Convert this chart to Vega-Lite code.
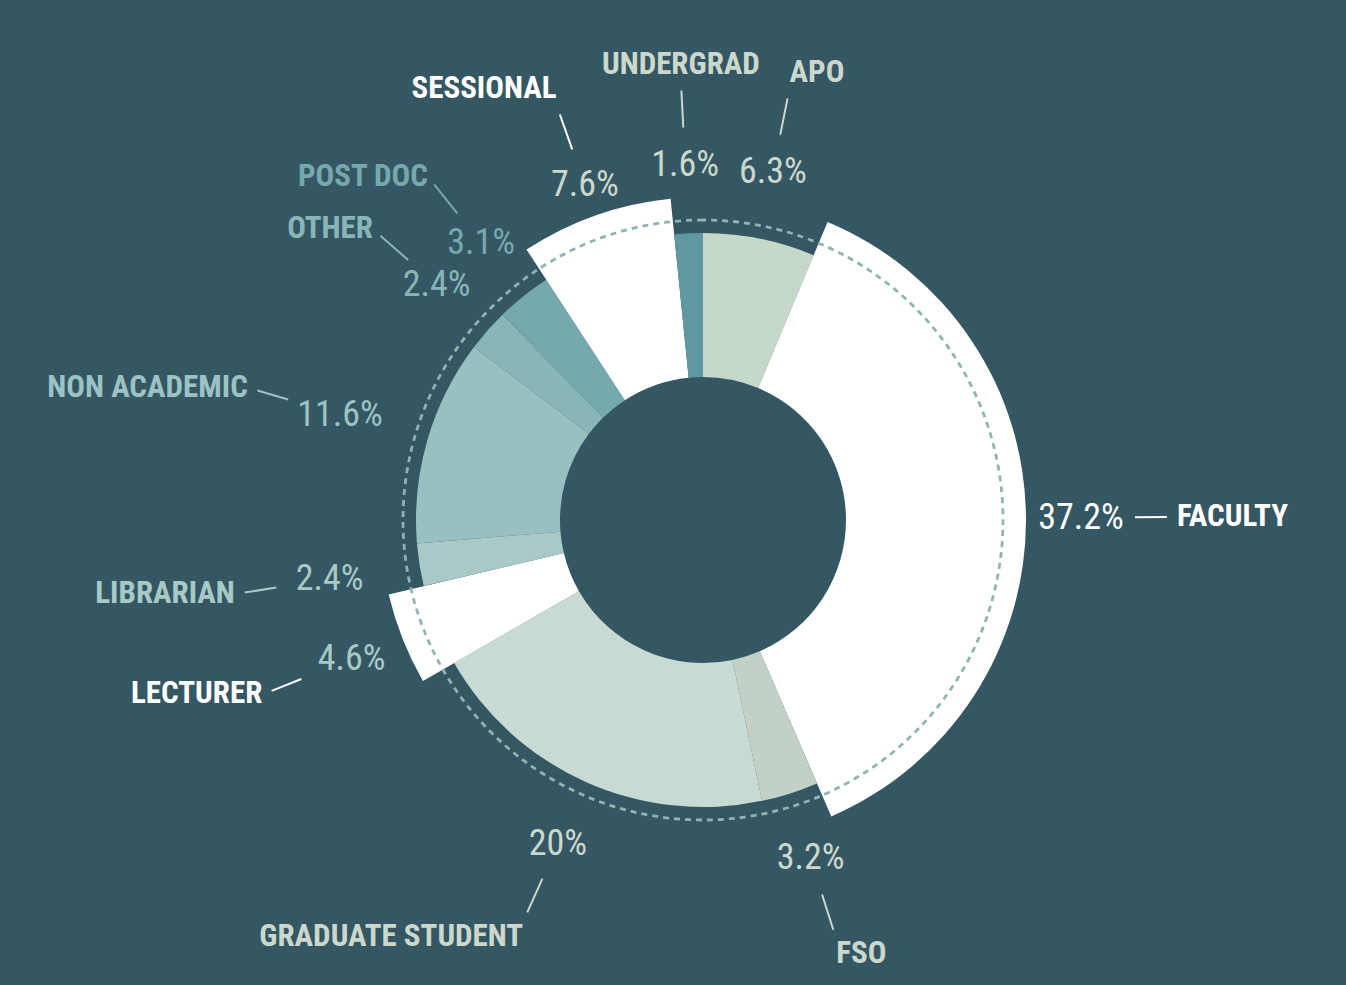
{
  "$schema": "https://vega.github.io/schema/vega-lite/v6.json",
  "width": 1286,
  "height": 930,
  "autosize": {"type": "none"},
  "padding": {"left": 60, "top": 55, "right": 0, "bottom": 0},
  "background": "#345763",
  "config": {"view": {"stroke": null}, "text": {"font": "Roboto Condensed, Roboto, Liberation Sans, sans-serif"}},
  "data": {
    "values": [
      {"idx": 1, "category": "APO", "pct": 0.063, "instructor": 0},
      {"idx": 2, "category": "FACULTY", "pct": 0.372, "instructor": 1},
      {"idx": 3, "category": "FSO", "pct": 0.032, "instructor": 0},
      {"idx": 4, "category": "GRADUATE STUDENT", "pct": 0.2, "instructor": 0},
      {"idx": 5, "category": "LECTURER", "pct": 0.046, "instructor": 1},
      {"idx": 6, "category": "LIBRARIAN", "pct": 0.024, "instructor": 0},
      {"idx": 7, "category": "NON ACADEMIC", "pct": 0.116, "instructor": 0},
      {"idx": 8, "category": "OTHER", "pct": 0.024, "instructor": 0},
      {"idx": 9, "category": "POST DOC", "pct": 0.031, "instructor": 0},
      {"idx": 10, "category": "SESSIONAL", "pct": 0.076, "instructor": 1},
      {"idx": 11, "category": "UNDERGRAD", "pct": 0.016, "instructor": 0}
    ]
  },
  "resolve": {"scale": {"color": "independent"}},
  "layer": [
    {
      "transform": [{"stack": "pct", "groupby": [], "sort": [{"field": "idx", "order": "ascending"}], "as": ["start", "end"]}],
      "mark": {"type": "arc"},
      "encoding": {
        "theta": {"field": "start", "type": "quantitative", "stack": null},
        "theta2": {"field": "end"},
        "radius": {"field": "instructor", "type": "quantitative", "scale": {"type": "linear", "domain": [0, 1], "range": [287, 323], "zero": false}},
        "radius2": {"value": 143},
        "color": {"field": "category", "type": "nominal", "legend": null,
          "scale": {"domain": ["APO","FACULTY","FSO","GRADUATE STUDENT","LECTURER","LIBRARIAN","NON ACADEMIC","OTHER","POST DOC","SESSIONAL","UNDERGRAD"],
                    "range": ["#c5d8ca","#ffffff","#c2d0c6","#c8dad4","#ffffff","#a9c9c6","#98c0c1","#88b6b8","#76a9ae","#ffffff","#5f999f"]}}
      }
    },
    {
      "transform": [{"aggregate": [{"op": "sum", "field": "pct", "as": "pct"}]}],
      "mark": {"type": "arc", "filled": false, "stroke": "#8fb5b2", "strokeWidth": 2.8, "strokeDash": [6, 5]},
      "encoding": {
        "theta": {"field": "pct", "type": "quantitative", "stack": true},
        "radius": {"value": 300}
      }
    },
    {
      "mark": {"type": "arc", "filled": false, "padAngle": 3.14, "strokeWidth": 2},
      "encoding": {
        "theta": {"field": "pct", "type": "quantitative", "stack": true},
        "order": {"field": "idx", "type": "quantitative"},
        "radius": {"value": 464},
        "radius2": {"value": 432},
        "strokeOpacity": {"condition": {"test": "indexof(['FACULTY','NON ACADEMIC','LIBRARIAN','LECTURER'], datum.category) >= 0", "value": 1}, "value": 0},
        "color": {"field": "category", "type": "nominal", "legend": null,
          "scale": {"domain": ["APO","FACULTY","FSO","GRADUATE STUDENT","LECTURER","LIBRARIAN","NON ACADEMIC","OTHER","POST DOC","SESSIONAL","UNDERGRAD"],
                    "range": ["#ccd8cc","#ffffff","#ccd8cc","#ccd8cc","#ffffff","#a9c9c6","#9cc3c3","#88b6b8","#76a9ae","#ffffff","#ccd8cc"]}}
      }
    },
    {
      "mark": {"type": "arc", "filled": false, "padAngle": 3.14, "strokeWidth": 2},
      "encoding": {
        "theta": {"field": "pct", "type": "quantitative", "stack": true},
        "order": {"field": "idx", "type": "quantitative"},
        "radius": {"value": 430},
        "radius2": {"value": 393},
        "strokeOpacity": {"condition": {"test": "indexof(['FACULTY','NON ACADEMIC','LIBRARIAN','LECTURER'], datum.category) < 0", "value": 1}, "value": 0},
        "color": {"field": "category", "type": "nominal", "legend": null,
          "scale": {"domain": ["APO","FACULTY","FSO","GRADUATE STUDENT","LECTURER","LIBRARIAN","NON ACADEMIC","OTHER","POST DOC","SESSIONAL","UNDERGRAD"],
                    "range": ["#ccd8cc","#ffffff","#ccd8cc","#ccd8cc","#ffffff","#a9c9c6","#9cc3c3","#88b6b8","#76a9ae","#ffffff","#ccd8cc"]}}
      }
    },
    {
      "mark": {"type": "text", "fontSize": 36, "align": "center", "baseline": "middle"},
      "encoding": {
        "theta": {"field": "pct", "type": "quantitative", "stack": true},
        "order": {"field": "idx", "type": "quantitative"},
        "radius": {"value": 378},
        "text": {"condition": {"test": "indexof(['FACULTY','NON ACADEMIC','LIBRARIAN','LECTURER'], datum.category) >= 0", "field": "pct", "type": "quantitative", "format": ".1~%"}, "value": ""},
        "color": {"field": "category", "type": "nominal", "legend": null,
          "scale": {"domain": ["APO","FACULTY","FSO","GRADUATE STUDENT","LECTURER","LIBRARIAN","NON ACADEMIC","OTHER","POST DOC","SESSIONAL","UNDERGRAD"],
                    "range": ["#ccd8cc","#ffffff","#ccd8cc","#ccd8cc","#a9c9c6","#a9c9c6","#9cc3c3","#88b6b8","#76a9ae","#ccd8cc","#ccd8cc"]}}
      }
    },
    {
      "mark": {"type": "text", "fontSize": 36, "align": "center", "baseline": "middle"},
      "encoding": {
        "theta": {"field": "pct", "type": "quantitative", "stack": true},
        "order": {"field": "idx", "type": "quantitative"},
        "radius": {"value": 355},
        "text": {"condition": {"test": "indexof(['FACULTY','NON ACADEMIC','LIBRARIAN','LECTURER'], datum.category) < 0", "field": "pct", "type": "quantitative", "format": ".1~%"}, "value": ""},
        "color": {"field": "category", "type": "nominal", "legend": null,
          "scale": {"domain": ["APO","FACULTY","FSO","GRADUATE STUDENT","LECTURER","LIBRARIAN","NON ACADEMIC","OTHER","POST DOC","SESSIONAL","UNDERGRAD"],
                    "range": ["#ccd8cc","#ffffff","#ccd8cc","#ccd8cc","#a9c9c6","#a9c9c6","#9cc3c3","#88b6b8","#76a9ae","#ccd8cc","#ccd8cc"]}}
      }
    },
    {
      "mark": {"type": "text", "fontSize": 31, "fontWeight": "bold", "align": "right", "baseline": "middle"},
      "encoding": {
        "theta": {"field": "pct", "type": "quantitative", "stack": true},
        "order": {"field": "idx", "type": "quantitative"},
        "radius": {"value": 474},
        "text": {"condition": {"test": "indexof(['LECTURER','LIBRARIAN','NON ACADEMIC'], datum.category) >= 0", "field": "category", "type": "nominal"}, "value": ""},
        "color": {"field": "category", "type": "nominal", "legend": null,
          "scale": {"domain": ["APO","FACULTY","FSO","GRADUATE STUDENT","LECTURER","LIBRARIAN","NON ACADEMIC","OTHER","POST DOC","SESSIONAL","UNDERGRAD"],
                    "range": ["#ccd8cc","#ffffff","#ccd8cc","#ccd8cc","#ffffff","#a9c9c6","#9cc3c3","#88b6b8","#76a9ae","#ffffff","#ccd8cc"]}}
      }
    },
    {
      "mark": {"type": "text", "fontSize": 31, "fontWeight": "bold", "align": "left", "baseline": "middle"},
      "encoding": {
        "theta": {"field": "pct", "type": "quantitative", "stack": true},
        "order": {"field": "idx", "type": "quantitative"},
        "radius": {"value": 474},
        "text": {"condition": {"test": "datum.category === 'FACULTY'", "field": "category", "type": "nominal"}, "value": ""},
        "color": {"field": "category", "type": "nominal", "legend": null,
          "scale": {"domain": ["APO","FACULTY","FSO","GRADUATE STUDENT","LECTURER","LIBRARIAN","NON ACADEMIC","OTHER","POST DOC","SESSIONAL","UNDERGRAD"],
                    "range": ["#ccd8cc","#ffffff","#ccd8cc","#ccd8cc","#ffffff","#a9c9c6","#9cc3c3","#88b6b8","#76a9ae","#ffffff","#ccd8cc"]}}
      }
    },
    {
      "mark": {"type": "text", "fontSize": 31, "fontWeight": "bold", "align": "right", "baseline": "middle"},
      "encoding": {
        "theta": {"field": "pct", "type": "quantitative", "stack": true},
        "order": {"field": "idx", "type": "quantitative"},
        "radius": {"value": 440},
        "text": {"condition": {"test": "indexof(['OTHER','POST DOC'], datum.category) >= 0", "field": "category", "type": "nominal"}, "value": ""},
        "color": {"field": "category", "type": "nominal", "legend": null,
          "scale": {"domain": ["APO","FACULTY","FSO","GRADUATE STUDENT","LECTURER","LIBRARIAN","NON ACADEMIC","OTHER","POST DOC","SESSIONAL","UNDERGRAD"],
                    "range": ["#ccd8cc","#ffffff","#ccd8cc","#ccd8cc","#ffffff","#a9c9c6","#9cc3c3","#88b6b8","#76a9ae","#ffffff","#ccd8cc"]}}
      }
    },
    {
      "mark": {"type": "text", "fontSize": 31, "fontWeight": "bold", "align": "right", "baseline": "bottom"},
      "encoding": {
        "theta": {"field": "pct", "type": "quantitative", "stack": true},
        "order": {"field": "idx", "type": "quantitative"},
        "radius": {"value": 440},
        "text": {"condition": {"test": "datum.category === 'SESSIONAL'", "field": "category", "type": "nominal"}, "value": ""},
        "color": {"field": "category", "type": "nominal", "legend": null,
          "scale": {"domain": ["APO","FACULTY","FSO","GRADUATE STUDENT","LECTURER","LIBRARIAN","NON ACADEMIC","OTHER","POST DOC","SESSIONAL","UNDERGRAD"],
                    "range": ["#ccd8cc","#ffffff","#ccd8cc","#ccd8cc","#ffffff","#a9c9c6","#9cc3c3","#88b6b8","#76a9ae","#ffffff","#ccd8cc"]}}
      }
    },
    {
      "mark": {"type": "text", "fontSize": 31, "fontWeight": "bold", "align": "center", "baseline": "bottom"},
      "encoding": {
        "theta": {"field": "pct", "type": "quantitative", "stack": true},
        "order": {"field": "idx", "type": "quantitative"},
        "radius": {"value": 440},
        "text": {"condition": {"test": "datum.category === 'UNDERGRAD'", "field": "category", "type": "nominal"}, "value": ""},
        "color": {"field": "category", "type": "nominal", "legend": null,
          "scale": {"domain": ["APO","FACULTY","FSO","GRADUATE STUDENT","LECTURER","LIBRARIAN","NON ACADEMIC","OTHER","POST DOC","SESSIONAL","UNDERGRAD"],
                    "range": ["#ccd8cc","#ffffff","#ccd8cc","#ccd8cc","#ffffff","#a9c9c6","#9cc3c3","#88b6b8","#76a9ae","#ffffff","#ccd8cc"]}}
      }
    },
    {
      "mark": {"type": "text", "fontSize": 31, "fontWeight": "bold", "align": "left", "baseline": "bottom"},
      "encoding": {
        "theta": {"field": "pct", "type": "quantitative", "stack": true},
        "order": {"field": "idx", "type": "quantitative"},
        "radius": {"value": 440},
        "text": {"condition": {"test": "datum.category === 'APO'", "field": "category", "type": "nominal"}, "value": ""},
        "color": {"field": "category", "type": "nominal", "legend": null,
          "scale": {"domain": ["APO","FACULTY","FSO","GRADUATE STUDENT","LECTURER","LIBRARIAN","NON ACADEMIC","OTHER","POST DOC","SESSIONAL","UNDERGRAD"],
                    "range": ["#ccd8cc","#ffffff","#ccd8cc","#ccd8cc","#ffffff","#a9c9c6","#9cc3c3","#88b6b8","#76a9ae","#ffffff","#ccd8cc"]}}
      }
    },
    {
      "mark": {"type": "text", "fontSize": 31, "fontWeight": "bold", "align": "left", "baseline": "top"},
      "encoding": {
        "theta": {"field": "pct", "type": "quantitative", "stack": true},
        "order": {"field": "idx", "type": "quantitative"},
        "radius": {"value": 440},
        "text": {"condition": {"test": "datum.category === 'FSO'", "field": "category", "type": "nominal"}, "value": ""},
        "color": {"field": "category", "type": "nominal", "legend": null,
          "scale": {"domain": ["APO","FACULTY","FSO","GRADUATE STUDENT","LECTURER","LIBRARIAN","NON ACADEMIC","OTHER","POST DOC","SESSIONAL","UNDERGRAD"],
                    "range": ["#ccd8cc","#ffffff","#ccd8cc","#ccd8cc","#ffffff","#a9c9c6","#9cc3c3","#88b6b8","#76a9ae","#ffffff","#ccd8cc"]}}
      }
    },
    {
      "mark": {"type": "text", "fontSize": 31, "fontWeight": "bold", "align": "right", "baseline": "top"},
      "encoding": {
        "theta": {"field": "pct", "type": "quantitative", "stack": true},
        "order": {"field": "idx", "type": "quantitative"},
        "radius": {"value": 440},
        "text": {"condition": {"test": "datum.category === 'GRADUATE STUDENT'", "field": "category", "type": "nominal"}, "value": ""},
        "color": {"field": "category", "type": "nominal", "legend": null,
          "scale": {"domain": ["APO","FACULTY","FSO","GRADUATE STUDENT","LECTURER","LIBRARIAN","NON ACADEMIC","OTHER","POST DOC","SESSIONAL","UNDERGRAD"],
                    "range": ["#ccd8cc","#ffffff","#ccd8cc","#ccd8cc","#ffffff","#a9c9c6","#9cc3c3","#88b6b8","#76a9ae","#ffffff","#ccd8cc"]}}
      }
    }
  ]
}
